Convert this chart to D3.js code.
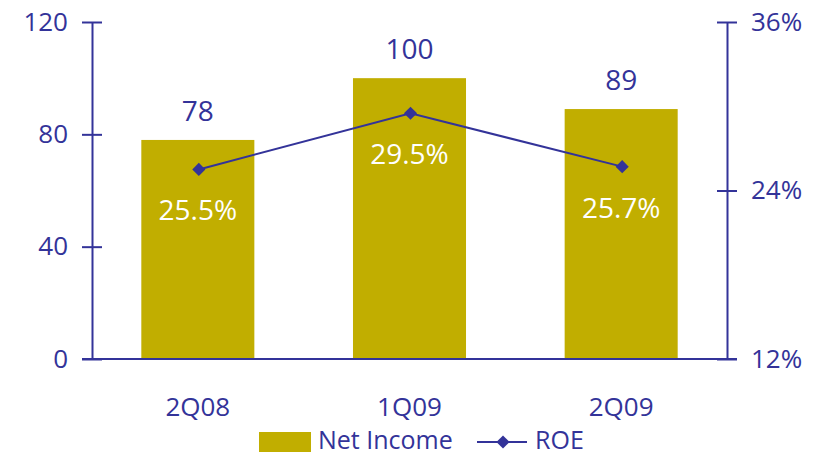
<!DOCTYPE html>
<html>
<head>
<meta charset="utf-8">
<script src="https://cdn.jsdelivr.net/npm/d3@7"></script>
<style>
  body { margin: 0; background: #fff; }
  svg text { font-family: "Open Sans", "Noto Sans", sans-serif; }
</style>
</head>
<body>
<svg id="chart" width="825" height="456"></svg>
<script>
// Quarterly net income (bars, left axis) and ROE (line, right axis)
const categories = ["2Q08", "1Q09", "2Q09"];
const netIncome = [78, 100, 89];
const roe = [25.5, 29.5, 25.7];
const leftTicks = [0, 40, 80, 120];
const rightTicks = [12, 24, 36];

const navy = "#333399";
const olive = "#C1AE00";

const svg = d3.select("#chart");
const m = { left: 92, right: 727, top: 22, bottom: 359 };

const x = d3.scaleBand().domain(categories).range([m.left, m.right]).paddingInner(0.466).paddingOuter(0.233);
const yL = d3.scaleLinear().domain([0, 120]).range([m.bottom, m.top]);
const yR = d3.scaleLinear().domain([12, 36]).range([m.bottom, m.top]);

// bars
svg.selectAll("rect.bar").data(categories).join("rect")
  .attr("class", "bar")
  .attr("x", d => x(d))
  .attr("width", x.bandwidth())
  .attr("y", (d, i) => yL(netIncome[i]))
  .attr("height", (d, i) => yL(0) - yL(netIncome[i]))
  .attr("fill", olive);

// axes
const axisStyle = g => {
  g.select(".domain").attr("stroke", navy).attr("stroke-width", 2);
  g.selectAll(".tick line").attr("stroke", navy).attr("stroke-width", 2);
  g.selectAll(".tick text").attr("fill", navy).attr("font-size", 26);
};

const gL = svg.append("g").attr("transform", `translate(${m.left},0)`)
  .call(d3.axisLeft(yL).tickValues(leftTicks).tickSize(10).tickSizeOuter(0).tickPadding(14));
axisStyle(gL);
gL.selectAll(".tick line").attr("x2", 10).attr("x1", -10);

const gR = svg.append("g").attr("transform", `translate(${m.right},0)`)
  .call(d3.axisRight(yR).tickValues(rightTicks).tickFormat(d => d + "%").tickSize(10).tickSizeOuter(0).tickPadding(14));
axisStyle(gR);
gR.selectAll(".tick line").attr("x1", -10).attr("x2", 10);

// baseline
svg.append("line")
  .attr("x1", m.left - 10).attr("x2", m.right + 10)
  .attr("y1", yL(0)).attr("y2", yL(0))
  .attr("stroke", navy).attr("stroke-width", 2);

// category labels
svg.selectAll("text.cat").data(categories).join("text")
  .attr("class", "cat")
  .attr("x", d => x(d) + x.bandwidth() / 2)
  .attr("y", 416)
  .attr("text-anchor", "middle")
  .attr("fill", navy)
  .attr("font-size", 26)
  .text(d => d);

// net income value labels
svg.selectAll("text.val").data(categories).join("text")
  .attr("class", "val")
  .attr("x", d => x(d) + x.bandwidth() / 2)
  .attr("y", (d, i) => yL(netIncome[i]) - 19)
  .attr("text-anchor", "middle")
  .attr("fill", navy)
  .attr("font-size", 28)
  .text((d, i) => netIncome[i]);

// ROE line
const cx = d => x(d) + x.bandwidth() / 2 + 1;
const line = d3.line().x((d, i) => cx(categories[i])).y(d => yR(d));
svg.append("path").datum(roe)
  .attr("d", line)
  .attr("fill", "none")
  .attr("stroke", navy)
  .attr("stroke-width", 2);

const diamond = d3.symbol().type(d3.symbolDiamond2).size(110);
svg.selectAll("path.mk").data(roe).join("path")
  .attr("class", "mk")
  .attr("transform", (d, i) => `translate(${cx(categories[i])},${yR(d)})`)
  .attr("d", diamond)
  .attr("fill", navy);

// ROE labels
svg.selectAll("text.roe").data(roe).join("text")
  .attr("class", "roe")
  .attr("x", (d, i) => x(categories[i]) + x.bandwidth() / 2)
  .attr("y", d => yR(d) + 51)
  .attr("text-anchor", "middle")
  .attr("fill", "#fff")
  .attr("font-size", 28)
  .text(d => d.toFixed(1) + "%");

// legend
const lg = svg.append("g");
lg.append("rect").attr("x", 259).attr("y", 432).attr("width", 52).attr("height", 20).attr("fill", olive);
lg.append("text").attr("x", 318).attr("y", 449).attr("fill", navy).attr("font-size", 25).text("Net Income");
lg.append("line").attr("x1", 477).attr("x2", 527).attr("y1", 442).attr("y2", 442).attr("stroke", navy).attr("stroke-width", 2);
lg.append("path").attr("transform", "translate(503,442)").attr("d", diamond).attr("fill", navy);
lg.append("text").attr("x", 535).attr("y", 449).attr("fill", navy).attr("font-size", 25).text("ROE");
</script>
</body>
</html>
